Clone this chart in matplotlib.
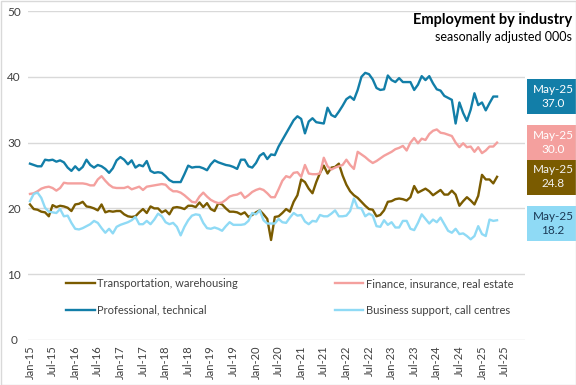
import matplotlib
matplotlib.use("Agg")
import matplotlib.pyplot as plt
from matplotlib.patches import Rectangle
import matplotlib.transforms as mtransforms

# ---- data (monthly, Jan-15 .. May-25) ----
transportation = [
    20.6, 19.9, 19.8, 19.5, 19.4, 18.8, 20.5, 20.2, 20.4, 20.3, 20.1, 19.6,
    20.6, 20.7, 21.0, 20.3, 20.2, 20.0, 19.7, 20.6, 19.4, 19.6, 19.5, 19.6,
    19.6, 19.1, 18.8, 18.7, 18.8, 19.4, 19.9, 19.3, 20.3, 20.0, 20.0, 19.4,
    19.7, 19.1, 20.1, 20.2, 20.1, 19.9, 20.4, 20.4, 20.2, 20.9, 20.2, 20.8,
    19.9, 19.6, 20.8, 20.6, 20.0, 19.5, 19.5, 19.4, 19.1, 19.4, 18.7, 19.0,
    19.4, 19.7, 19.1, 18.4, 15.2, 18.7, 18.8, 19.3, 19.9, 19.5, 21.0, 22.0,
    24.4, 24.0, 23.0, 22.3, 24.0, 25.4, 26.5, 25.3, 26.2, 26.3, 26.8, 25.0,
    23.6, 22.6, 22.0, 21.6, 21.0, 20.4, 19.9, 19.8, 18.8, 19.0, 19.7, 21.0,
    21.1, 21.4, 21.5, 21.4, 21.2, 21.7, 23.4, 22.4, 22.7, 23.0, 22.6, 22.0,
    22.4, 22.8, 22.1, 22.1, 22.7, 22.1, 20.4, 21.1, 21.7, 21.2, 20.6, 21.9,
    25.1, 24.4, 24.4, 23.8, 24.8,
]
finance = [
    22.2, 22.3, 22.6, 23.0, 23.2, 23.3, 23.1, 22.7, 23.1, 23.9, 23.8, 23.8,
    23.8, 23.8, 23.8, 23.7, 23.5, 23.5, 24.4, 24.9, 24.2, 23.6, 23.2, 23.1,
    23.1, 23.1, 23.3, 22.9, 23.1, 23.3, 22.8, 23.3, 23.4, 23.5, 23.6, 23.7,
    23.6, 23.0, 22.6, 22.6, 22.4, 22.0, 21.5, 21.0, 20.9, 21.8, 22.4, 21.8,
    21.3, 21.0, 20.8, 20.9, 21.3, 21.8, 22.0, 22.1, 22.4, 21.6, 22.0, 22.5,
    22.8, 23.0, 22.8, 22.3, 21.7, 21.7, 22.9, 24.2, 24.9, 24.7, 25.4, 25.5,
    24.8, 26.6, 25.3, 25.2, 25.2, 25.3, 27.7, 26.4, 25.9, 26.2, 26.4, 26.6,
    27.4, 26.6, 26.0, 28.6, 28.2, 27.8, 27.3, 26.9, 27.2, 27.6, 28.0, 28.3,
    28.6, 29.0, 29.2, 29.5, 28.8, 30.0, 30.7, 29.9, 30.6, 30.4, 31.3, 31.8,
    32.0, 31.5, 31.4, 31.2, 31.0, 30.0, 29.3, 29.9, 29.3, 29.4, 28.6, 29.3,
    28.4, 28.8, 29.4, 29.4, 30.0,
]
professional = [
    26.8, 26.6, 26.4, 26.4, 27.4, 27.3, 27.4, 27.1, 27.3, 27.0, 26.2, 25.7,
    26.4, 25.8, 26.3, 27.4, 26.6, 26.2, 26.6, 26.4, 26.0, 25.4, 26.1, 27.3,
    27.8, 27.4, 26.7, 27.3, 26.2, 26.6, 26.4, 27.2, 25.7, 25.4, 25.5, 25.4,
    24.9, 24.3, 24.0, 24.0, 24.0, 25.2, 26.5, 26.2, 26.3, 26.3, 26.1, 25.8,
    26.7, 27.3, 27.0, 26.8, 26.6, 26.5, 26.3, 26.0, 27.4, 27.4, 26.4, 26.2,
    26.9, 28.0, 28.4, 27.5, 28.2, 28.1, 29.4, 30.4, 31.4, 32.4, 33.4, 34.0,
    33.6, 31.4, 33.2, 33.7, 33.1, 33.0, 32.9, 35.3, 34.2, 33.9, 34.7, 35.6,
    36.6, 37.0, 36.5, 38.0, 40.0, 40.6, 40.4, 39.6, 38.3, 38.0, 38.1, 40.2,
    39.5, 39.2, 39.8, 39.2, 39.2, 39.2, 38.0, 38.8, 40.1, 39.5, 40.1, 39.0,
    38.1, 37.9, 37.1, 36.8, 36.5, 32.9, 36.1, 34.5, 33.3, 35.0, 37.5, 35.7,
    36.1, 34.9, 36.0, 37.0, 37.0,
]
business_support = [
    21.1, 22.2, 22.4, 21.6, 20.1, 19.5, 19.4, 19.3, 19.9, 18.8, 18.9, 17.8,
    16.9, 16.8, 17.0, 17.3, 17.6, 18.1, 17.8, 17.0, 16.3, 16.9, 16.2, 17.2,
    17.5, 17.7, 17.9, 18.2, 18.7, 17.6, 17.6, 18.1, 17.6, 18.3, 19.2, 18.8,
    17.9, 17.6, 17.8, 17.2, 15.9, 17.2, 18.2, 18.9, 19.1, 19.0, 17.8, 17.0,
    16.9, 17.1, 16.9, 16.6, 17.3, 17.9, 17.5, 17.5, 17.5, 17.6, 18.1, 19.3,
    19.1, 19.7, 18.2, 17.7, 17.7, 17.7, 18.4, 17.9, 17.8, 18.6, 19.3, 18.9,
    19.0, 18.0, 17.6, 18.1, 18.0, 19.0, 18.8, 18.8, 19.2, 19.7, 18.8, 18.8,
    18.9, 19.6, 21.5, 20.1, 20.0, 18.8, 19.2, 18.9, 17.3, 17.2, 18.2, 17.5,
    17.9, 17.1, 17.1, 18.1, 18.1, 16.9, 16.7, 17.8, 19.1, 18.4, 17.7, 18.3,
    17.9, 18.6, 17.6, 16.6, 16.3, 16.9, 16.1, 16.2, 15.8, 15.3, 15.8, 17.3,
    16.1, 15.8, 18.3, 18.1, 18.2,
]
series_names = ["Transportation, warehousing", "Professional, technical",
                "Finance, insurance, real estate", "Business support, call centres"]
series_values = [transportation, professional, finance, business_support]
series_colors = ["#7a5b00", "#127ea8", "#f4a09e", "#8fdaf5"]
last_values = [24.8, 37.0, 30.0, 18.2]
last_label = "May-25"
label_text_colors = ["#f2f2f2", "#ffffff", "#ffffff", "#1b3a56"]

n_categories = 132  # Jan-15 .. Dec-25
tick_positions = list(range(0, 127, 6))
tick_labels = ["Jan-15", "Jul-15", "Jan-16", "Jul-16", "Jan-17", "Jul-17",
               "Jan-18", "Jul-18", "Jan-19", "Jul-19", "Jan-20", "Jul-20",
               "Jan-21", "Jul-21", "Jan-22", "Jul-22", "Jan-23", "Jul-23",
               "Jan-24", "Jul-24", "Jan-25", "Jul-25"]

FONT = ["Lato", "DejaVu Sans"]
plt.rcParams["font.family"] = FONT

W, H = 576, 385
fig = plt.figure(figsize=(W / 100, H / 100), dpi=100)
ax = fig.add_axes([28.1 / W, 1 - 340 / H, (525.3 - 28.1) / W, (340 - 11) / H])

for name, vals, col in zip(series_names, series_values, series_colors):
    ax.plot(range(len(vals)), vals, color=col, lw=1.7, label=name,
            solid_joinstyle="round")

ax.set_xlim(-0.5, n_categories - 0.5)
ax.set_ylim(0, 50)
ax.set_yticks([0, 10, 20, 30, 40, 50])
ax.set_xticks(tick_positions)
ax.set_xticklabels(tick_labels, rotation=90, fontsize=8, color="#404040")
ax.tick_params(axis="y", labelsize=8.5, labelcolor="#404040", length=0, pad=10)
ax.tick_params(axis="x", length=0, pad=4)
for lab in ax.get_yticklabels():
    lab.set_horizontalalignment("center")
ax.grid(axis="y", color="#d9d9d9", lw=1)
ax.set_axisbelow(True)
for s in ax.spines.values():
    s.set_visible(False)

# legend
ax.legend(ncol=2, loc="upper left", bbox_to_anchor=(56 / W, 1 - 268 / H),
          bbox_transform=fig.transFigure, frameon=False, fontsize=8,
          handlelength=2.6, handletextpad=0.2, columnspacing=8.7,
          labelspacing=1.4, labelcolor="#404040")

# titles
fig.text(572 / W, 1 - 20 / H, "Employment by industry", ha="right", va="center",
         fontsize=10.5, fontweight="bold", color="#000000")
fig.text(572 / W, 1 - 37 / H, "seasonally adjusted 000s", ha="right", va="center",
         fontsize=9, color="#000000")

# end labels
trans = mtransforms.blended_transform_factory(fig.transFigure, ax.transData)
offsets = [0, 0, 0, -0.5]
for val, col, tcol, off in zip(last_values, series_colors, label_text_colors, offsets):
    ax.text(553 / W, val + off, f"{last_label}\n{val:.1f}", transform=trans,
            ha="center", va="center", fontsize=8.5, color=tcol, linespacing=1.35,
            bbox=dict(boxstyle="square,pad=0.45", fc=col, ec="none"),
            clip_on=False)

# chart border
fig.patches.append(Rectangle((0.5 / W, 0.5 / H), 1 - 1 / W, 1 - 1 / H,
                             transform=fig.transFigure, fill=False,
                             ec="#d9d9d9", lw=1))

fig.savefig("out.png", dpi=100)
